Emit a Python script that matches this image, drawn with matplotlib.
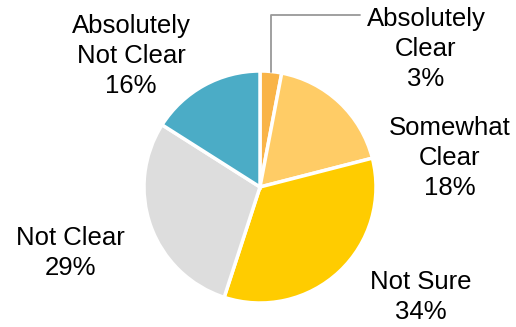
import numpy as np
import matplotlib
matplotlib.use("Agg")
import matplotlib.pyplot as plt

# data
labels = ["Absolutely\nClear", "Somewhat\nClear", "Not Sure", "Not Clear", "Absolutely\nNot Clear"]
values = [3, 18, 34, 29, 16]
colors = ["#F9B448", "#FFCC66", "#FFCC00", "#DDDDDD", "#4BACC6"]

plt.rcParams["font.family"] = ["Liberation Sans", "DejaVu Sans"]

W, H = 516, 327
fig = plt.figure(figsize=(W / 100, H / 100), dpi=100)
ax = fig.add_axes([0, 0, 1, 1])

cx, cy, r = 260, H - 187, 116
wedges, _ = ax.pie(values, colors=colors, startangle=90, counterclock=False,
                   center=(cx, cy), radius=r,
                   wedgeprops=dict(edgecolor="white", linewidth=2.5))
ax.set_xlim(0, W)
ax.set_ylim(0, H)
ax.set_aspect("equal")
ax.axis("off")

# label block centres (pixel coords, y from top)
label_pos = [(426, 49), (450, 158), (421, 297), (70, 253), (131, 56)]
fs = 18.5
for lab, v, (lx, ly) in zip(labels, values, label_pos):
    ax.text(lx, H - ly, f"{lab}\n{v}%", ha="center", va="center",
            fontsize=fs, color="black", linespacing=1.32)

# leader line for the small slice
w0 = wedges[0]
mid = np.deg2rad((w0.theta1 + w0.theta2) / 2)
anchor = (cx + r * np.cos(mid), cy + r * np.sin(mid))
ax.annotate("", xy=anchor, xytext=(360, H - 15),
            arrowprops=dict(arrowstyle="-", color="#999999", lw=1.3,
                            shrinkA=0, shrinkB=0,
                            connectionstyle="angle,angleA=180,angleB=90,rad=0"))

fig.savefig("out.png", dpi=100)
